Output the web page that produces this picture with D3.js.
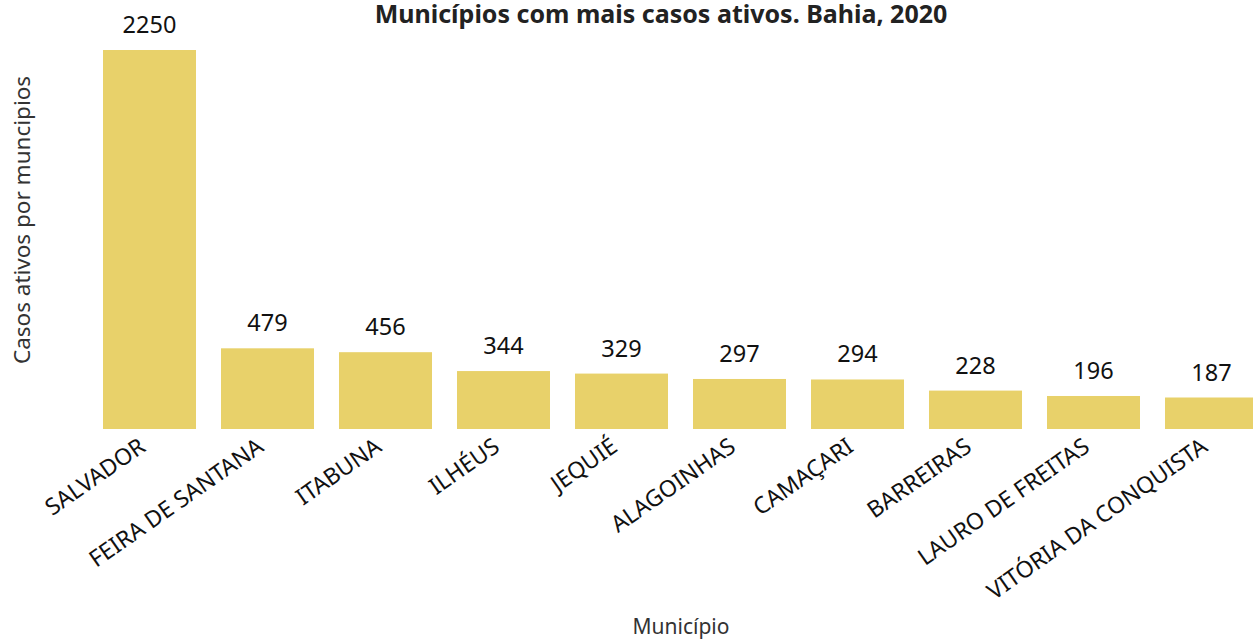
<!DOCTYPE html>
<html>
<head>
<meta charset="utf-8">
<script src="https://cdn.jsdelivr.net/npm/d3@7"></script>
<style>
  body { margin: 0; background: #fff; }
  svg { display: block; font-family: "Noto Sans", "Open Sans", sans-serif; }
</style>
</head>
<body>
<div id="chart"></div>
<script>
// Données : municípios com mais casos ativos
const municipios = ["SALVADOR", "FEIRA DE SANTANA", "ITABUNA", "ILHÉUS", "JEQUIÉ",
  "ALAGOINHAS", "CAMAÇARI", "BARREIRAS", "LAURO DE FREITAS", "VITÓRIA DA CONQUISTA"];
const casosAtivos = [2250, 479, 456, 344, 329, 297, 294, 228, 196, 187];

const titulo = "Municípios com mais casos ativos. Bahia, 2020";
const tituloY = "Casos ativos por muncipios";
const tituloX = "Município";

const data = municipios.map((m, i) => ({ municipio: m, casos: casosAtivos[i] }));

const width = 1253, height = 641;
const baseY = 429, topY = 50;

const svg = d3.select("#chart").append("svg")
  .attr("width", width)
  .attr("height", height);

// échelles
const x = d3.scaleBand()
  .domain(municipios)
  .range([90.5, 1270.5])
  .paddingInner(0.212)
  .paddingOuter(0.106);

const y = d3.scaleLinear()
  .domain([0, 2250])
  .range([baseY, topY]);

// barres
svg.append("g")
  .selectAll("rect")
  .data(data)
  .join("rect")
  .attr("x", d => x(d.municipio))
  .attr("y", d => y(d.casos))
  .attr("width", x.bandwidth())
  .attr("height", d => baseY - y(d.casos))
  .attr("fill", "#e8d16a");

// valeurs au-dessus des barres
svg.append("g")
  .selectAll("text")
  .data(data)
  .join("text")
  .attr("x", d => x(d.municipio) + x.bandwidth() / 2)
  .attr("y", d => y(d.casos) - 17)
  .attr("text-anchor", "middle")
  .attr("font-size", 23.5)
  .attr("fill", "#111")
  .text(d => d.casos);

// axe X
svg.append("g")
  .attr("transform", `translate(0, ${baseY})`)
  .call(d3.axisBottom(x).tickSize(0).tickPadding(0))
  .call(g => g.select(".domain").remove())
  .selectAll("text")
  .attr("font-family", "Noto Sans, Open Sans, sans-serif")
  .attr("font-size", 23)
  .attr("fill", "#111")
  .attr("text-anchor", "end")
  .attr("y", 0)
  .attr("dy", 0)
  .attr("transform", "translate(-2.5, 21) rotate(-35)");

// titre
svg.append("text")
  .attr("x", 661)
  .attr("y", 23)
  .attr("text-anchor", "middle")
  .attr("font-size", 25)
  .attr("font-weight", "bold")
  .attr("fill", "#222")
  .text(titulo);

// titre axe Y
svg.append("text")
  .attr("transform", "translate(30, 220) rotate(-90)")
  .attr("text-anchor", "middle")
  .attr("font-size", 22.5)
  .attr("fill", "#333")
  .text(tituloY);

// titre axe X
svg.append("text")
  .attr("x", 681)
  .attr("y", 634)
  .attr("text-anchor", "middle")
  .attr("font-size", 21)
  .attr("fill", "#333")
  .text(tituloX);
</script>
</body>
</html>
